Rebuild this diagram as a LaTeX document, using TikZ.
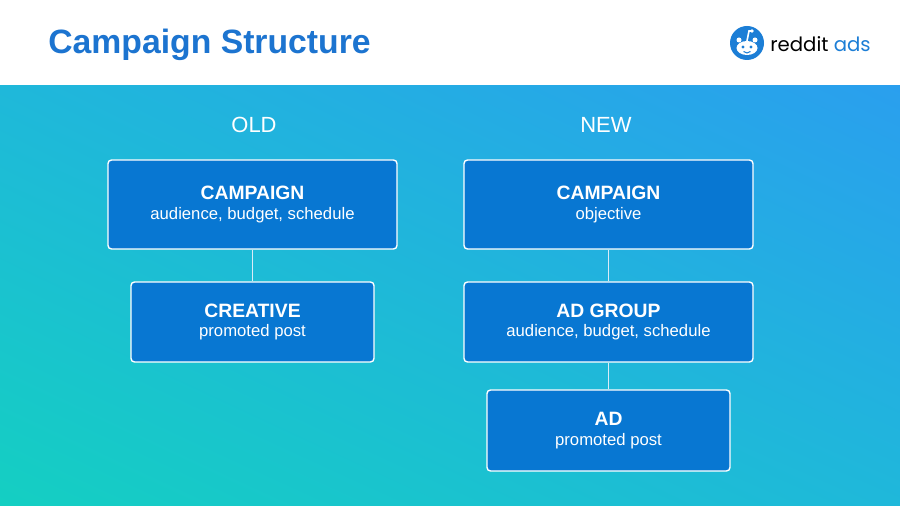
\documentclass[tikz,border=0pt]{standalone}
\usepackage{fontspec}
\setmainfont{Liberation Sans}
\newfontfamily\logofont{Poppins}
\usetikzlibrary{positioning,shadings}
\definecolor{boxblue}{HTML}{0877D2}
\definecolor{titleblue}{HTML}{1C74D0}
\definecolor{bgteal}{HTML}{14CFC2}
\definecolor{skyblue}{HTML}{2A9FEE}
\definecolor{midblue}{HTML}{1FB8DA}
\definecolor{redditblue}{HTML}{1C7ED6}

\begin{document}
\begin{tikzpicture}[x=0.02cm,y=-0.02cm]
\tikzstyle{every node}=[text=white]
\tikzstyle{level}=[draw=white,line width=0.8pt,fill=boxblue,rounded corners=2pt,align=center,inner sep=0pt]
\tikzstyle{link}=[draw=white!85!boxblue,line width=0.8pt]

% background
\useasboundingbox (0,0) rectangle (900,506);
\shade[upper left=midblue,upper right=skyblue,lower left=bgteal,lower right=midblue] (0,85) rectangle (900,506);
\fill[white] (0,0) rectangle (900,85);
\node[anchor=west,inner sep=0pt,text=titleblue,font=\fontsize{19.2}{22}\selectfont\bfseries] (title) at (48,45) {Campaign Structure};

% logo
\fill[redditblue] (747,43) circle (17);
\fill[white] (747,48) ellipse (10.5 and 7);
\fill[white] (739,40) circle (2.5);
\fill[white] (755,40) circle (2.5);
\fill[white] (752,31) circle (1.8);
\draw[white,line width=0.9pt] (747,41) -- (749,31) -- (752,31);
\fill[redditblue] (743,47) circle (1.6);
\fill[redditblue] (751,47) circle (1.6);
\draw[redditblue,line width=0.6pt] (743.5,51.5) .. controls (746,53.5) and (748,53.5) .. (750.5,51.5);
\node[anchor=west,inner sep=0pt,font=\logofont\fontsize{11.2}{13}\selectfont] (logo) at (770,44) {\textcolor{black}{reddit} \textcolor{redditblue}{ads}};

% columns
\node[font=\fontsize{12.5}{14}\selectfont] (old) at (254,125) {OLD};
\node[font=\fontsize{12.5}{14}\selectfont] (new) at (606,125) {NEW};

\node[level,minimum width=289*0.02cm,minimum height=89*0.02cm] (oldcamp) at (252.5,204.5)
  {{\fontsize{11}{13}\selectfont\bfseries CAMPAIGN}\\[-1pt]{\fontsize{9.5}{11}\selectfont audience, budget, schedule}};
\node[level,minimum width=243*0.02cm,minimum height=80*0.02cm] (creative) at (252.5,322)
  {{\fontsize{11}{13}\selectfont\bfseries CREATIVE}\\[-1pt]{\fontsize{9.5}{11}\selectfont promoted post}};

\node[level,minimum width=289*0.02cm,minimum height=89*0.02cm] (newcamp) at (608.5,204.5)
  {{\fontsize{11}{13}\selectfont\bfseries CAMPAIGN}\\[-1pt]{\fontsize{9.5}{11}\selectfont objective}};
\node[level,minimum width=289*0.02cm,minimum height=80*0.02cm] (adgroup) at (608.5,322)
  {{\fontsize{11}{13}\selectfont\bfseries AD GROUP}\\[-1pt]{\fontsize{9.5}{11}\selectfont audience, budget, schedule}};
\node[level,minimum width=243*0.02cm,minimum height=81*0.02cm] (ad) at (608.5,430.5)
  {{\fontsize{11}{13}\selectfont\bfseries AD}\\[-1pt]{\fontsize{9.5}{11}\selectfont promoted post}};

\draw[link] (oldcamp) -- (creative);
\draw[link] (newcamp) -- (adgroup);
\draw[link] (adgroup) -- (ad);
\end{tikzpicture}
\end{document}
